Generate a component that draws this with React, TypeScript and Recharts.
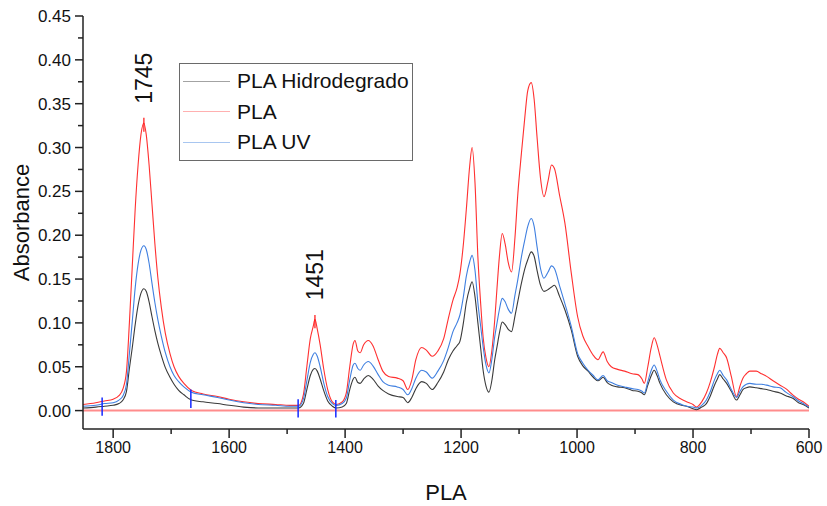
import React from 'react';
import { LineChart, Line, XAxis, YAxis, ReferenceLine, ReferenceDot, Legend } from 'recharts';

const FONT = '"Liberation Sans", Arial, sans-serif';

const wavenumbers = [
  1852, 1830, 1815, 1800, 1790, 1783, 1777, 1772, 1767, 1762, 1757, 1752, 1747, 1743, 1738, 1733, 1728, 1723, 1717, 1710,
  1702, 1695, 1687, 1678, 1665, 1645, 1620, 1600, 1575, 1550, 1520, 1495, 1480, 1472, 1466, 1460, 1455, 1452, 1448, 1443,
  1437, 1430, 1422, 1415, 1405, 1398, 1392, 1386, 1383, 1378, 1374, 1368, 1360, 1352, 1343, 1335, 1325, 1310, 1300, 1292,
  1285, 1278, 1268, 1260, 1250, 1240, 1230, 1222, 1214, 1207, 1202, 1196, 1191, 1185, 1181, 1176, 1171, 1166, 1162, 1157,
  1152, 1147, 1142, 1138, 1134, 1129, 1124, 1119, 1113, 1107, 1102, 1096, 1090, 1085, 1079, 1074, 1069, 1063, 1057, 1050,
  1044, 1039, 1030, 1021, 1010, 999, 990, 981, 972, 964, 955, 948, 941, 930, 918, 905, 895, 888, 884, 878,
  872, 867, 862, 857, 846, 834, 820, 811, 800, 794, 785, 777, 770, 763, 758, 754, 748, 742, 734, 725,
  719, 714, 708, 702, 691, 682, 673, 662, 650, 640, 628, 618, 610, 600,
];

const pla = [
  0.007, 0.009, 0.011, 0.013, 0.017, 0.025, 0.045, 0.1, 0.165, 0.23, 0.28, 0.315, 0.328, 0.315, 0.28, 0.235, 0.19, 0.152, 0.118, 0.088,
  0.065, 0.05, 0.039, 0.031, 0.023, 0.019, 0.016, 0.013, 0.01, 0.008, 0.007, 0.006, 0.006, 0.018, 0.05, 0.082, 0.096, 0.104, 0.093, 0.075,
  0.048, 0.024, 0.01, 0.007, 0.01, 0.02, 0.05, 0.076, 0.08, 0.068, 0.066, 0.075, 0.08, 0.074, 0.058, 0.045, 0.039, 0.037, 0.034, 0.024,
  0.035, 0.058, 0.072, 0.069, 0.062, 0.068, 0.082, 0.105, 0.126, 0.14, 0.156, 0.19, 0.229, 0.28, 0.3, 0.26, 0.175, 0.12, 0.084, 0.06,
  0.05, 0.068, 0.103, 0.14, 0.175, 0.202, 0.19, 0.17, 0.158, 0.198, 0.248, 0.293, 0.335, 0.365, 0.374, 0.355, 0.312, 0.265, 0.244, 0.262,
  0.28, 0.276, 0.245, 0.214, 0.157, 0.107, 0.085, 0.073, 0.063, 0.058, 0.067, 0.056, 0.05, 0.047, 0.045, 0.042, 0.041, 0.036, 0.031, 0.05,
  0.072, 0.083, 0.075, 0.062, 0.035, 0.02, 0.013, 0.01, 0.007, 0.004, 0.01, 0.02, 0.033, 0.05, 0.064, 0.071, 0.066, 0.06, 0.039, 0.016,
  0.028, 0.037, 0.042, 0.045, 0.045, 0.042, 0.039, 0.034, 0.029, 0.025, 0.018, 0.013, 0.01, 0.005,
];

const plaUv = [
  0.005, 0.006, 0.008, 0.009, 0.012, 0.017, 0.03, 0.065, 0.102, 0.14, 0.167, 0.183, 0.188, 0.184, 0.168, 0.145, 0.123, 0.104, 0.085, 0.066,
  0.05, 0.04, 0.033, 0.027, 0.021, 0.018, 0.015, 0.012, 0.009, 0.007, 0.006, 0.005, 0.005, 0.013, 0.034, 0.055, 0.064, 0.066, 0.062, 0.05,
  0.032, 0.016, 0.008, 0.006, 0.008, 0.014, 0.035, 0.052, 0.054, 0.048, 0.046, 0.052, 0.056, 0.051, 0.041, 0.033, 0.029, 0.027, 0.024, 0.018,
  0.025, 0.037, 0.046, 0.044, 0.037, 0.045, 0.057, 0.072, 0.09, 0.1, 0.109, 0.13, 0.153, 0.17, 0.177, 0.16, 0.123, 0.095, 0.073, 0.052,
  0.043, 0.058, 0.084, 0.1, 0.115, 0.128, 0.124, 0.116, 0.111, 0.132, 0.15, 0.175, 0.195, 0.21, 0.219, 0.21, 0.187, 0.162, 0.151, 0.158,
  0.165, 0.162, 0.142, 0.122, 0.096, 0.065, 0.054, 0.046, 0.04, 0.035, 0.04, 0.034, 0.032, 0.029, 0.027, 0.025, 0.024, 0.022, 0.02, 0.033,
  0.046, 0.052, 0.045, 0.035, 0.022, 0.012, 0.007, 0.005, 0.004, 0.003, 0.006, 0.012, 0.022, 0.035, 0.042, 0.046, 0.04, 0.035, 0.024, 0.015,
  0.022, 0.027, 0.03, 0.031, 0.03, 0.03, 0.029, 0.027, 0.026, 0.021, 0.016, 0.011, 0.008, 0.004,
];

const plaHydro = [
  0.003, 0.004, 0.005, 0.006, 0.008, 0.012, 0.022, 0.048, 0.072, 0.098, 0.12, 0.134, 0.139, 0.136, 0.124, 0.107, 0.091, 0.077, 0.063, 0.049,
  0.038, 0.03, 0.023, 0.018, 0.012, 0.01, 0.008, 0.006, 0.004, 0.003, 0.003, 0.003, 0.003, 0.008, 0.024, 0.04, 0.047, 0.048, 0.045, 0.036,
  0.023, 0.011, 0.005, 0.003, 0.004, 0.008, 0.024, 0.036, 0.038, 0.032, 0.031, 0.036, 0.04, 0.036, 0.028, 0.023, 0.019, 0.016, 0.015, 0.009,
  0.015, 0.025, 0.033, 0.031, 0.024, 0.032, 0.044, 0.058, 0.068, 0.074, 0.079, 0.1, 0.123, 0.14, 0.147, 0.13, 0.1, 0.07, 0.046, 0.028,
  0.021, 0.034, 0.058, 0.073, 0.088, 0.101, 0.098, 0.093, 0.09, 0.108, 0.125, 0.145, 0.162, 0.172, 0.181, 0.176, 0.16, 0.143, 0.136, 0.138,
  0.141, 0.143, 0.13, 0.115, 0.092, 0.062, 0.051, 0.045, 0.038, 0.034, 0.038, 0.032, 0.029, 0.027, 0.026, 0.023, 0.022, 0.02, 0.018, 0.029,
  0.04, 0.046, 0.04, 0.031, 0.018, 0.01, 0.006, 0.005, 0.002, 0.001, 0.004, 0.008, 0.017, 0.029, 0.036, 0.041, 0.036, 0.031, 0.022, 0.012,
  0.018, 0.024, 0.026, 0.027, 0.026, 0.025, 0.024, 0.022, 0.02, 0.017, 0.014, 0.009, 0.007, 0.003,
];

const seriesNames = ['PLA Hidrodegrado', 'PLA', 'PLA UV'];
const seriesKeys = ['hydro', 'pla', 'uv'];
const seriesColors = ['#3a3a3a', '#ff3030', '#3f7fe0'];
const legendColors = ['#a3a3a3', '#ffb0b0', '#a8c6f0'];

const xTicks = [1800, 1700, 1600, 1500, 1400, 1300, 1200, 1100, 1000, 900, 800, 700, 600];
const xTickLabels = ['1800', '', '1600', '', '1400', '', '1200', '', '1000', '', '800', '', '600'];
const yTicks = [0, 0.025, 0.05, 0.075, 0.1, 0.125, 0.15, 0.175, 0.2, 0.225, 0.25, 0.275, 0.3, 0.325, 0.35, 0.375, 0.4, 0.425, 0.45];
const yTickLabels = ['0.00', '', '0.05', '', '0.10', '', '0.15', '', '0.20', '', '0.25', '', '0.30', '', '0.35', '', '0.40', '', '0.45'];

// baseline anchor marks (blue) and peak marks (red)
const anchorX = [1819, 1666, 1481, 1416];
const anchorLow = [-0.006, 0.003, -0.008, -0.008];
const anchorHigh = [0.015, 0.024, 0.013, 0.012];

const peakText = ['1745', '1451'];
const peakX = [1747, 1452];
const peakTextY = [0.379, 0.155];
const peakMarkLow = [0.318, 0.094];
const peakMarkHigh = [0.334, 0.109];

const rows = wavenumbers.map((wn, i) => ({ wn, hydro: plaHydro[i], pla: pla[i], uv: plaUv[i] }));

const XTick = (props: any) => {
  const { x, y, payload } = props;
  const idx = xTicks.indexOf(payload.value);
  const label = xTickLabels[idx];
  return (
    <g>
      <line x1={x} x2={x} y1={y} y2={y + (label ? 9 : 5)} stroke="#222" strokeWidth={1.5} />
      {label && (
        <text x={x} y={y + 24} textAnchor="middle" fontSize={16} fontFamily={FONT} fill="#111">
          {label}
        </text>
      )}
    </g>
  );
};

const YTick = (props: any) => {
  const { x, y, payload } = props;
  const idx = yTicks.findIndex((t) => Math.abs(t - payload.value) < 1e-9);
  const label = yTickLabels[idx];
  return (
    <g>
      <line x1={x - (label ? 8 : 5)} x2={x} y1={y} y2={y} stroke="#222" strokeWidth={1.5} />
      {label && (
        <text x={x - 12} y={y} dy="0.36em" textAnchor="end" fontSize={17} fontFamily={FONT} fill="#111">
          {label}
        </text>
      )}
    </g>
  );
};

const YLabel = (props: any) => {
  const vb = props.viewBox || {};
  const cx = (vb.x || 0) + 21;
  const cy = (vb.y || 0) + (vb.height || 0) / 2;
  return (
    <text x={cx} y={cy} transform={`rotate(-90 ${cx} ${cy})`} textAnchor="middle" dominantBaseline="central"
      fontSize={22} fontFamily={FONT} fill="#111">
      Absorbance
    </text>
  );
};

const XLabel = (props: any) => {
  const vb = props.viewBox || {};
  const cx = (vb.x || 0) + (vb.width || 0) / 2;
  return (
    <text x={cx} y={(vb.y || 0) + 71} textAnchor="middle" fontSize={22} fontFamily={FONT} fill="#111">
      PLA
    </text>
  );
};

const peakShape = (text: string) => (props: any) => {
  const { cx, cy } = props;
  return (
    <text x={cx} y={cy} transform={`rotate(-90 ${cx} ${cy})`} textAnchor="middle" dominantBaseline="central"
      fontSize={23} fontFamily={FONT} fill="#111">
      {text}
    </text>
  );
};

const LegendBox = () => (
  <div style={{ position: 'relative', width: 234, height: 98, border: '1.5px solid #6a6a6a', boxSizing: 'border-box', background: '#fff', fontFamily: FONT }}>
    {seriesNames.map((name, i) => (
      <div key={name} style={{ position: 'absolute', left: 0, top: 2 + i * 30.5, height: 30, display: 'flex', alignItems: 'center' }}>
        <div style={{ width: 47, height: 0, borderTop: `1.5px solid ${legendColors[i]}`, marginLeft: 3 }} />
        <span style={{ marginLeft: 7, fontSize: 21, color: '#111', lineHeight: '30px', whiteSpace: 'nowrap' }}>{name}</span>
      </div>
    ))}
  </div>
);

export default function App() {
  return (
    <div style={{ position: 'fixed', left: 0, top: 0, width: 827, height: 506, background: '#fff' }}>
      <LineChart width={827} height={506} data={rows} margin={{ top: 16, right: 18, bottom: 0, left: 0 }}>
        <XAxis
          dataKey="wn"
          type="number"
          domain={[600, 1852]}
          reversed
          allowDataOverflow
          ticks={xTicks}
          interval={0}
          height={77}
          tickSize={0}
          tickMargin={0}
          tickLine={false}
          axisLine={{ stroke: '#222', strokeWidth: 1.5 }}
          tick={<XTick />}
          label={XLabel}
        />
        <YAxis
          type="number"
          domain={[-0.021, 0.45]}
          allowDataOverflow
          ticks={yTicks}
          interval={0}
          width={83}
          tickSize={0}
          tickMargin={0}
          tickLine={false}
          axisLine={{ stroke: '#222', strokeWidth: 1.5 }}
          tick={<YTick />}
          label={YLabel}
        />
        <ReferenceLine y={0} stroke="#ff8c8c" strokeWidth={2} />
        {seriesKeys.map((k, i) => (
          <Line key={k} type="monotone" dataKey={k} name={seriesNames[i]} stroke={seriesColors[i]} strokeWidth={1.1}
            dot={false} activeDot={false} isAnimationActive={false} />
        ))}
        {anchorX.map((x, i) => (
          <ReferenceLine key={`a${x}`} segment={[{ x, y: anchorLow[i] }, { x, y: anchorHigh[i] }]} stroke="#1428ff" strokeWidth={1.5} />
        ))}
        {peakX.map((x, i) => (
          <ReferenceLine key={`p${x}`} segment={[{ x, y: peakMarkLow[i] }, { x, y: peakMarkHigh[i] }]} stroke="#ff1010" strokeWidth={1.2} />
        ))}
        {peakX.map((x, i) => (
          <ReferenceDot key={`t${x}`} x={x} y={peakTextY[i]} r={0} shape={peakShape(peakText[i])} />
        ))}
        <Legend layout="vertical" align="center" verticalAlign="middle"
          wrapperStyle={{ left: 179, top: 63, width: 234, height: 98 }} content={() => <LegendBox />} />
      </LineChart>
    </div>
  );
}
